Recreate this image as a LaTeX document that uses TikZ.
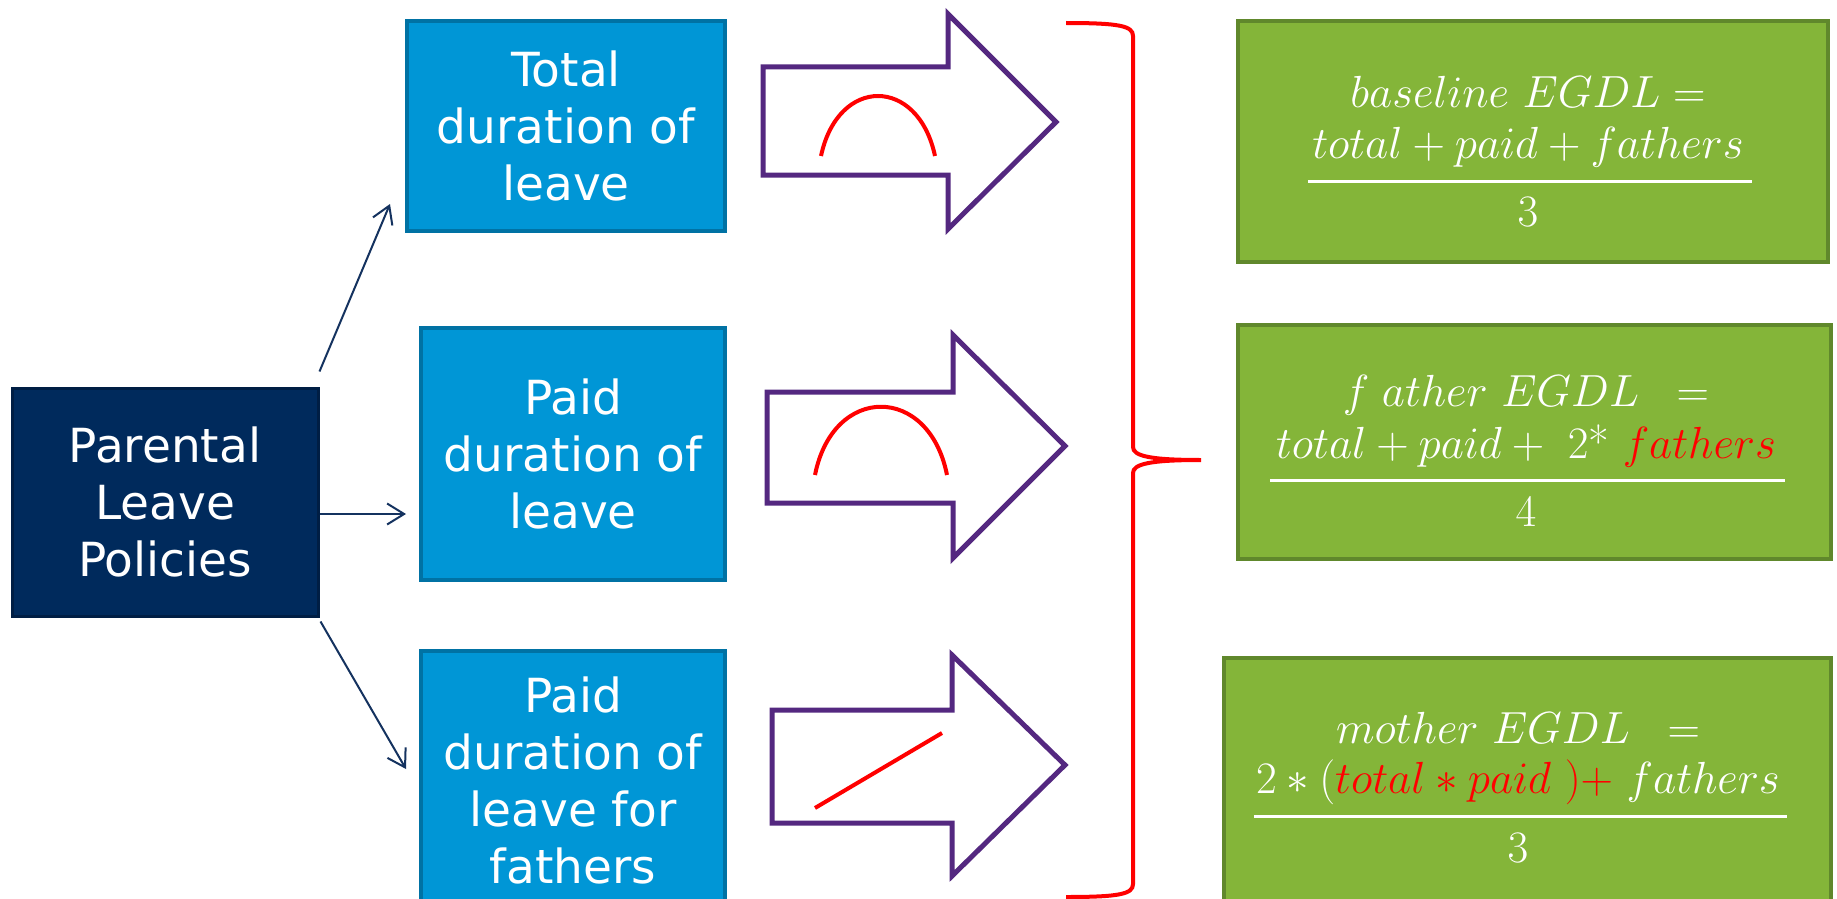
\RequirePackage{fix-cm}
\documentclass[tikz,border=0pt]{standalone}
\usepackage{fontspec}
\newfontfamily\boxfont{DejaVu Sans}
\usetikzlibrary{calc,arrows.meta}

\definecolor{navyfill}{RGB}{0,42,92}
\definecolor{navyline}{RGB}{0,30,68}
\definecolor{bluefill}{RGB}{0,150,214}
\definecolor{blueline}{RGB}{0,114,164}
\definecolor{greenfill}{RGB}{132,181,57}
\definecolor{greenline}{RGB}{96,136,44}
\definecolor{arrowpurple}{RGB}{84,40,128}
\definecolor{linknavy}{RGB}{20,50,95}

\tikzset{
  policy/.style={draw=navyline, fill=navyfill, line width=3pt, text=white,
    font=\boxfont\fontsize{47}{57}\selectfont, align=center, inner sep=0pt},
  measure/.style={draw=blueline, fill=bluefill, line width=4pt, text=white,
    font=\boxfont\fontsize{47}{57}\selectfont, align=center, inner sep=0pt},
  result/.style={draw=greenline, fill=greenfill, line width=4pt, inner sep=0pt},
  link/.style={draw=linknavy, line width=2pt,
    -{Straight Barb[length=17pt,width=21pt,line width=2pt]}},
  blockarrow/.style={draw=arrowpurple, line width=5pt, line join=miter, fill=white},
  trend/.style={draw=red, line width=4pt},
  bracket/.style={draw=red, line width=4pt},
  formula/.style={text=white, inner sep=0pt, anchor=base,
    font=\fontsize{45}{52}\selectfont},
  fracbar/.style={draw=white, line width=3pt},
}

\begin{document}
\begin{tikzpicture}[x=1pt,y=-1pt]
\useasboundingbox (0,0) rectangle (1837,899);
\clip (0,0) rectangle (1837,899);
\fill[white] (0,0) rectangle (1837,899);

% policy and its three measures
\node[policy, minimum width=306pt, minimum height=228pt] (par) at (165,502)
  {Parental\\Leave\\Policies};
\node[measure, minimum width=318pt, minimum height=210pt] (t1) at (566,126)
  {Total\\duration of\\leave};
\node[measure, minimum width=304pt, minimum height=252pt] (t2) at (573,454)
  {Paid\\duration of\\leave};
\node[measure, minimum width=304pt, minimum height=258pt] (t3) at (573,780)
  {Paid\\duration of\\leave for\\fathers};

\draw[link] ($(par.north east)+(0,-15)$) -- ($(t1.south west)+(-15,-29)$);
\draw[link] ($(par.east)+(0,12)$) -- ($(par.east -| t2.west)+(-13,12)$);
\draw[link] ($(par.south east)+(1,4)$) -- ($(t3.north west)+(-13,120)$);

% block arrows with the shape of each effect
\draw[blockarrow] (763,67) -- (948,67) -- (948,14) -- (1056,122) -- (948,229)
  -- (948,175) -- (763,175) -- cycle;
\draw[blockarrow] (767,392) -- (953,392) -- (953,335) -- (1065,446) -- (953,558)
  -- (953,503) -- (767,503) -- cycle;
\draw[blockarrow] (772,710) -- (952,710) -- (952,655) -- (1065,765) -- (952,876)
  -- (952,823) -- (772,823) -- cycle;

\draw[trend] (821,156) .. controls (838,76) and (918,76) .. (935,156);
\draw[trend] (815,475) .. controls (833,384) and (929,384) .. (947,475);
\draw[trend] (815,808) -- (942,733);

% right brace
\draw[bracket] (1066,23) .. controls (1120,23) and (1133,26) .. (1133,36)
  -- (1133,447) .. controls (1133,456) and (1150,460) .. (1201,460)
  .. controls (1150,460) and (1133,464) .. (1133,473)
  -- (1133,884) .. controls (1133,894) and (1120,897) .. (1066,897);

% index formulas
\node[result, minimum width=590pt, minimum height=241pt] (ga) at (1533,141.5) {};
\node[result, minimum width=593pt, minimum height=234pt] (gb) at (1534.5,442) {};
\node[result, minimum width=607pt, minimum height=247pt] (gc) at (1527.5,781.5) {};

\node[formula] (a1) at (1528,107) {$baseline\ EGDL =$};
\node[formula] (a2) at (1528,158) {$total + paid + fathers$};
\node[formula] (a3) at (1528,226) {$3$};
\draw[fracbar] ($(a2.base west)+(-4,23)$) -- ($(a2.base east)+(8,23)$);

\node[formula] (b1) at (1526,406) {$f\;ather\ EGDL\;\;=$};
\node[formula] (b2) at (1526,458)
  {$total + paid +\ 2\mbox{*}\ \textcolor{red}{fathers}$};
\node[formula] (b3) at (1526,526) {$4$};
\draw[fracbar] ($(b2.base west)+(-6,22)$) -- ($(b2.base east)+(9,22)$);

\node[formula] (c1) at (1518,743) {$mother\ EGDL\;\;=$};
\node[formula] (c2) at (1518,793)
  {$2\ast(\textcolor{red}{total\ast paid\ )+}\ fathers$};
\node[formula] (c3) at (1518,862) {$3$};
\draw[fracbar] ($(c2.base west)+(-2,23)$) -- ($(c2.base east)+(7,23)$);
\end{tikzpicture}
\end{document}
